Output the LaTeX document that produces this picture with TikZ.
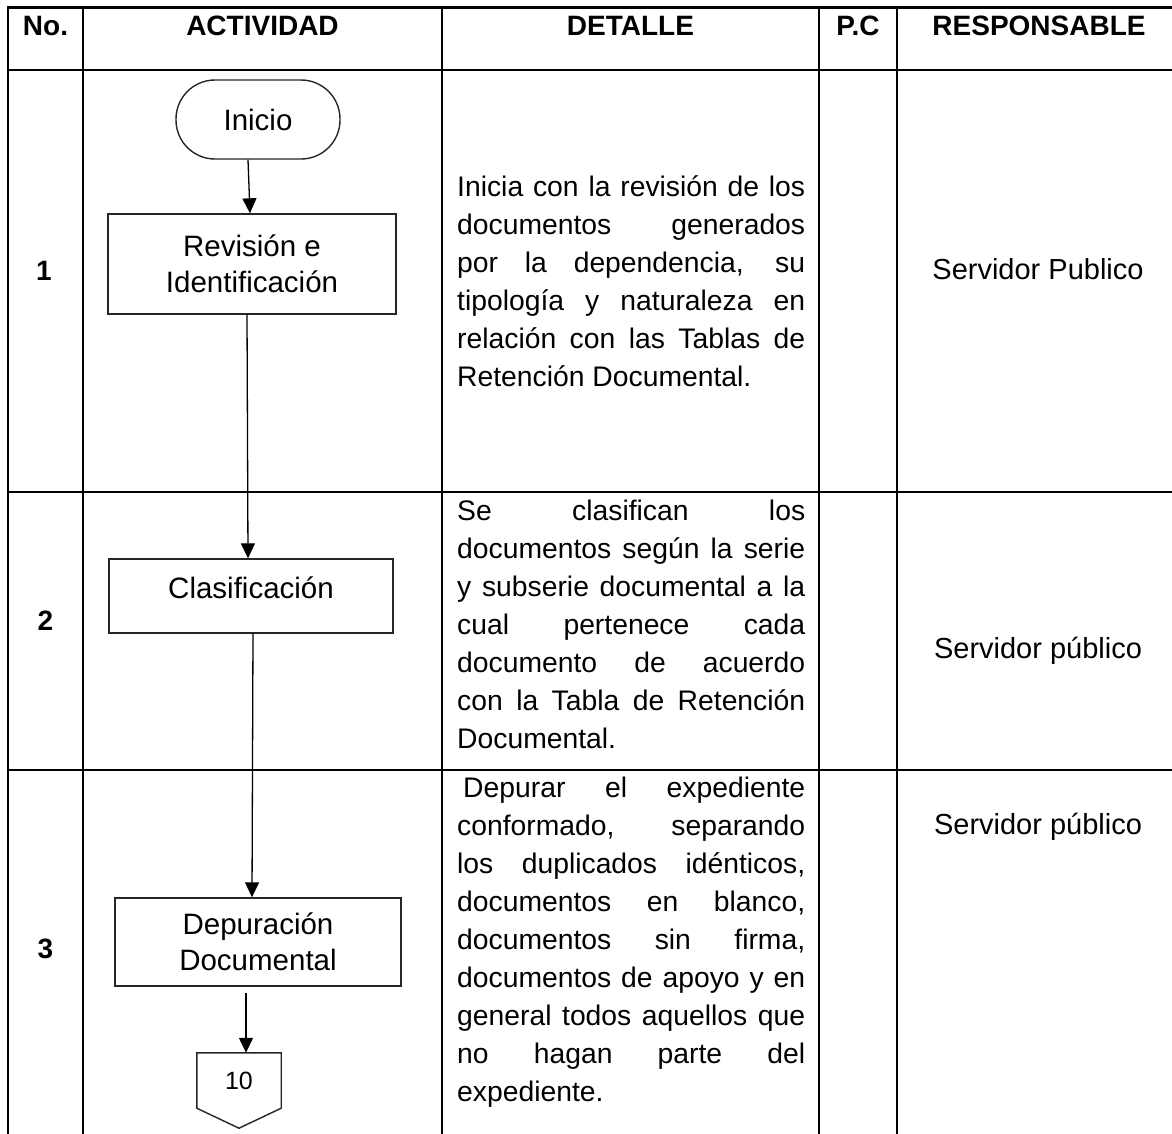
\documentclass[tikz,border=0pt]{standalone}
\usepackage{fontspec}
\setmainfont{Liberation Sans}
\usetikzlibrary{arrows.meta,calc}
\begin{document}
\begin{tikzpicture}[x=1pt,y=1pt,
  tline/.style={line width=2.6pt,line cap=rect},
  rline/.style={line width=2.2pt,line cap=rect},
  hdr/.style={font=\fontsize{28}{34}\selectfont\bfseries,anchor=base,inner sep=0},
  num/.style={font=\fontsize{28}{34}\selectfont\bfseries,anchor=base,inner sep=0},
  body/.style={font=\fontsize{29}{38}\selectfont,anchor=base,inner sep=0},
  cell/.style={anchor=base west,inner sep=0},
  flowbox/.style={draw=black!85,line width=1.4pt,inner sep=0,font=\fontsize{29.5}{36}\selectfont,align=center},
  flowline/.style={draw=black!85,line width=1.4pt},
  arr/.style={line width=1.3pt,-{Triangle[length=15pt,width=14pt]}},
]
\useasboundingbox (0,0) rectangle (1172,-1133);
\fill[white] (0,0) rectangle (1172,-1133);

% table grid
\draw[tline] (8,-7.5) -- (1172,-7.5);
\draw[tline] (8,-70) -- (1172,-70);
\draw[rline] (8,-492) -- (1172,-492);
\draw[rline] (8,-770) -- (1172,-770);
\foreach \x in {8,83,442,819,897} \draw[tline] (\x,-7.5) -- (\x,-1140);

% header
\node[hdr] (hno) at (45.5,-35) {No.};
\node[hdr] (hact) at (262.5,-35) {ACTIVIDAD};
\node[hdr] (hdet) at (630.5,-35) {DETALLE};
\node[hdr] (hpc) at (858,-35) {P.C};
\node[hdr] (hres) at (1039,-35) {RESPONSABLE};

% numbers
\node[num] (n1) at (44,-280) {1};
\node[num] (n2) at (45.5,-630) {2};
\node[num] (n3) at (45.5,-958) {3};

% flowchart
\node[flowbox,rounded corners=39pt,minimum width=164pt,minimum height=79pt] (inicio) at (258,-119.5) {Inicio};
\node[flowbox,minimum width=288pt,minimum height=100pt] (rev) at (252,-264) {Revisión e\\Identificación};
\node[flowbox,minimum width=284pt,text height=39pt,text depth=35pt] (clas) at (251,-596) {Clasificación};
\node[flowbox,minimum width=286pt,minimum height=88pt] (dep) at (258,-942) {Depuración\\Documental};
\node[inner sep=0,minimum width=84pt,minimum height=55pt,font=\fontsize{25}{28}\selectfont] (ten) at (239,-1080.5) {10};
\draw[flowline] (ten.north west) -- (ten.north east) -- (ten.south east) -- ($(ten.south)+(0,-20)$) -- (ten.south west) -- cycle;

\draw[arr] ([xshift=-10pt]inicio.south) -- ([xshift=-2pt]rev.north);
\draw[arr] ([xshift=-5pt]rev.south) -- ([xshift=-3pt]clas.north);
\draw[arr] ([xshift=2pt]clas.south) -- ([xshift=-6pt]dep.north);
\draw[arr] ([xshift=-12pt,yshift=-6pt]dep.south) -- ([xshift=7pt]ten.north);

% detail texts
\node[cell] (d1) at (457,-196) {\parbox[t]{348pt}{\fontsize{28.3}{38}\selectfont
\makebox[348pt][s]{Inicia con la revisión de los}\\
\makebox[348pt][s]{documentos generados}\\
\makebox[348pt][s]{por la dependencia, su}\\
\makebox[348pt][s]{tipología y naturaleza en}\\
\makebox[348pt][s]{relación con las Tablas de}\\
Retención Documental.}};

\node[cell] (d2) at (457,-520) {\parbox[t]{348pt}{\fontsize{28.3}{38}\selectfont
\makebox[348pt][s]{Se clasifican los}\\
\makebox[348pt][s]{documentos según la serie}\\
\makebox[348pt][s]{y subserie documental a la}\\
\makebox[348pt][s]{cual pertenece cada}\\
\makebox[348pt][s]{documento de acuerdo}\\
\makebox[348pt][s]{con la Tabla de Retención}\\
Documental.}};

\node[cell] (d3) at (457,-797) {\parbox[t]{348pt}{\fontsize{28.3}{38}\selectfont
\makebox[348pt][s]{\hspace{6pt}Depurar el expediente}\\
\makebox[348pt][s]{conformado, separando}\\
\makebox[348pt][s]{los duplicados idénticos,}\\
\makebox[348pt][s]{documentos en blanco,}\\
\makebox[348pt][s]{documentos sin firma,}\\
\makebox[348pt][s]{documentos de apoyo y en}\\
\makebox[348pt][s]{general todos aquellos que}\\
\makebox[348pt][s]{no hagan parte del}\\
expediente.}};

% responsable
\node[body] (r1) at (1038,-279) {Servidor Publico};
\node[body] (r2) at (1038,-658) {Servidor público};
\node[body] (r3) at (1038,-834) {Servidor público};
\end{tikzpicture}
\end{document}
